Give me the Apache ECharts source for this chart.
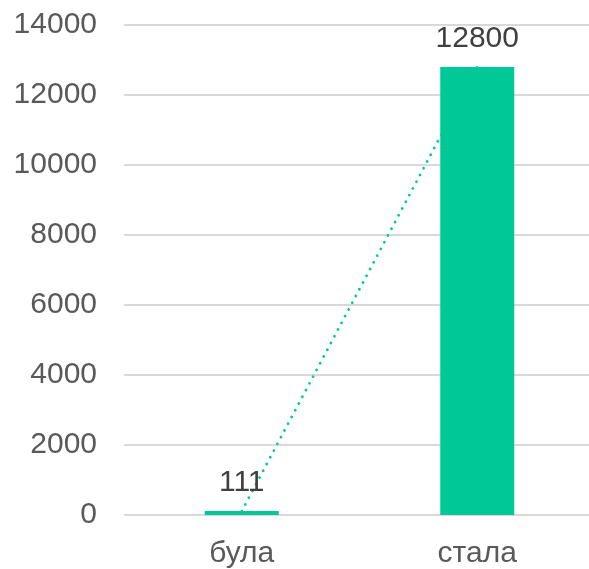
<!DOCTYPE html>
<html>
<head>
<meta charset="utf-8">
<script src="https://cdn.jsdelivr.net/npm/echarts@6/dist/echarts.min.js"></script>
<style>
  html, body { margin: 0; padding: 0; background: #fff; }
  #main { width: 589px; height: 569px; }
</style>
</head>
<body>
<div id="main"></div>
<script>
// categories and values
let categories = ["була", "стала"];
let values = [111, 12800];
// linear trend through the two bars (the dotted line)
let trend = [111, 12800];

let myChart = echarts.init(document.getElementById("main"));

let green = "#00C896";
let font = "Liberation Sans, Arial, sans-serif";

let options = {
  animation: false,
  grid: { left: 124, top: 25, width: 471, height: 490, containLabel: false, outerBoundsMode: "none" },
  xAxis: {
    type: "category",
    data: categories,
    axisLine: { show: false },
    axisTick: { show: false },
    axisLabel: { color: "#595959", fontSize: 30, fontFamily: font, margin: 24 },
  },
  yAxis: {
    type: "value",
    min: 0,
    max: 14000,
    interval: 2000,
    axisLine: { show: false },
    axisTick: { show: false },
    axisLabel: {
      color: "#595959",
      fontSize: 30,
      fontFamily: font,
      margin: 27,
      formatter: (v) => String(v),
    },
    splitLine: { lineStyle: { color: "#d9d9d9", width: 2 } },
  },
  series: [
    {
      name: "trend",
      type: "line",
      data: trend,
      showSymbol: false,
      z: 1,
      lineStyle: { color: green, width: 2.8, type: [0.01, 7.6], cap: "round" },
    },
    {
      name: "values",
      type: "bar",
      data: values,
      barWidth: 74,
      z: 2,
      itemStyle: { color: green },
      label: {
        show: true,
        position: "top",
        distance: 13,
        color: "#404040",
        fontSize: 30,
        fontFamily: font,
      },
    },
  ],
};

myChart.setOption(options);
</script>
</body>
</html>
